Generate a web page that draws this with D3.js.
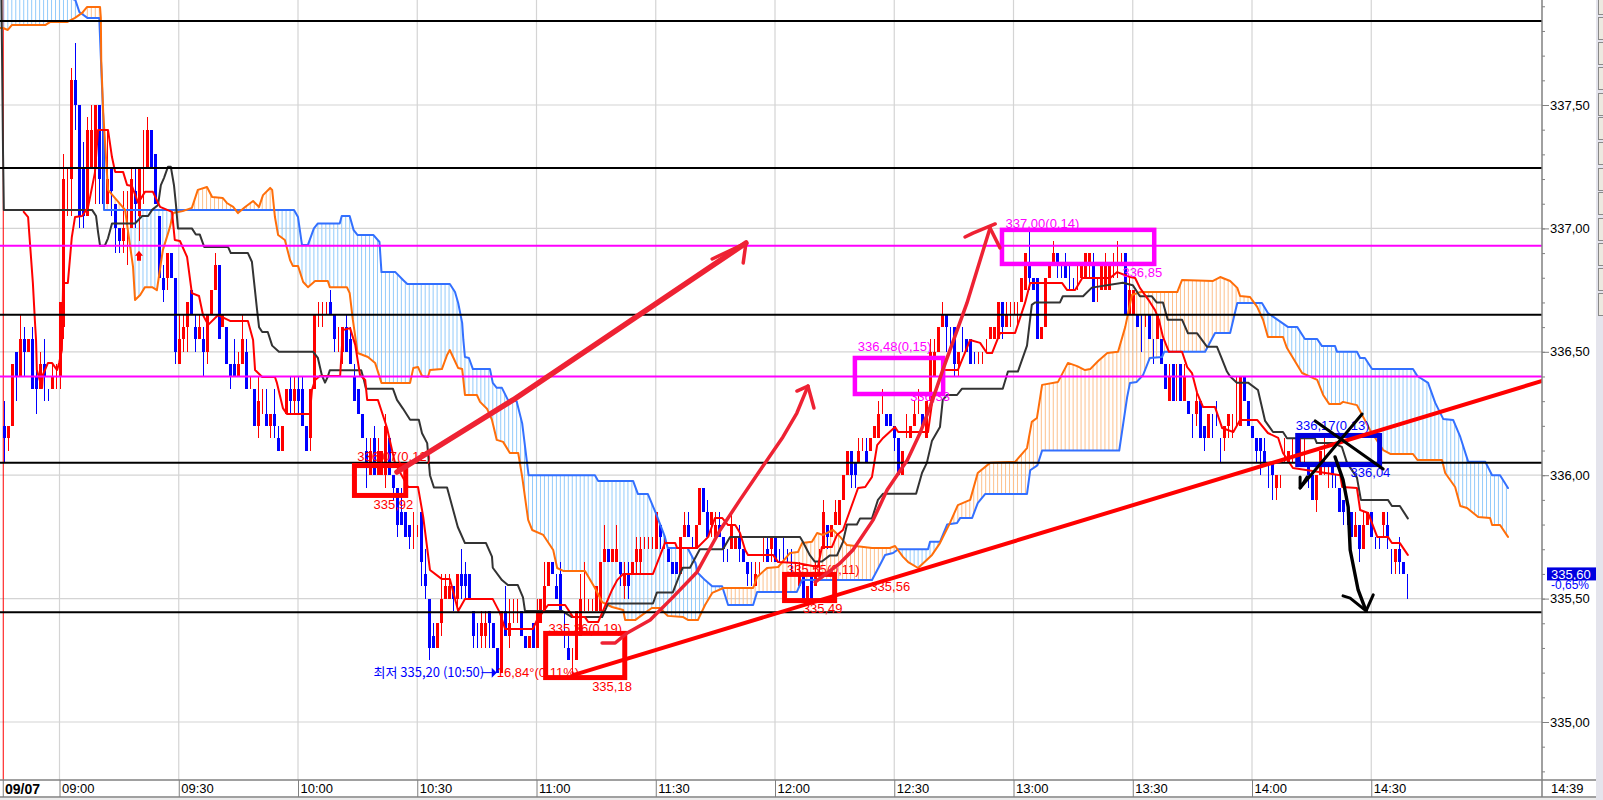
<!DOCTYPE html>
<html>
<head>
<meta charset="utf-8">
<script src="https://cdn.jsdelivr.net/npm/d3@7"></script>
<style>
  html, body { margin: 0; padding: 0; background: #fff; overflow: hidden; }
  svg { display: block; }
  text { font-family: "Liberation Sans Narrow", "Liberation Sans", sans-serif; font-size: 13px; }
</style>
</head>
<body>
<div id="chart"></div>
<script>
// Values. Minutes are counted from 09:00, bars are one minute apart.

const firstBar = -14
const candleSide =
  'BRRBRBRBBR' + 'BBRRRRRRBB' + 'BRRRBBRBBB' + 'RRRBRRRBBB' + 'BRBBRRRBBR' + 'BRRRBRBBBR' + 'RBRBRRBRBB' +
  'RRBRBBBRRR' + 'RRBBRRBBBB' + 'BBRBRRRBBB' + 'BBBRRBBBBR' + 'RRRBRBBBBB' + 'RRBBBRBRRR' + 'BBRBRRRRBB' +
  'BBBRRRRRRR' + 'RRBRRBRBRR' + 'RRRRRBRBBB' + 'RRBBRRBBRR' + 'BBBRRBBBBR' + 'RRBRBBBBBR' + 'RBRBRRRBRR' +
  'RRRBBRRBRR' + 'RRBBBBRRRR' + 'RBRRRRRBBB' + 'RBBBBRRRRR' + 'RBRRRRRRBB' + 'BRRRRBBBBB' + 'RRRRBRRRRR' +
  'RRBRRBBRBB' + 'RBBRBRBRBB' + 'RBBRBBBRRR' + 'RRBBBBBBBB' + 'RRRRRRRRBB' + 'RRRRBBBBBB' + 'RBRRBBBRBB' + 'RBBB'

const bodyTop = [
  336.2,336.2,336.45,336.5,336.55,336.55,336.55,336.55,336.4,336.45,
  336.45,336.35,336.4,336.4,336.7,337.2,337.05,337.6,337.6,337.5,
  337.25,337.4,337.4,337.5,337.5,337.4,337.2,337.25,337.1,337,
  337,337,337.2,337.15,337.25,337.3,337.4,337.4,337.3,337.05,
  336.8,336.9,336.9,336.8,336.55,336.6,336.7,336.75,336.6,336.6,
  336.55,336.65,336.75,336.85,336.85,336.65,336.6,336.45,336.45,336.45,
  336.55,336.5,336.4,336.35,336.3,336.3,336.25,336.25,336.25,336.15,
  336.2,336.35,336.35,336.35,336.35,336.35,336.2,336.35,336.65,336.65,
  336.65,336.7,336.7,336.65,336.55,336.6,336.6,336.55,336.4,336.35,
  336.25,336.1,336.1,336.15,336.1,336.1,336.2,336.15,336,335.95,
  335.85,335.85,335.8,335.8,335.8,335.85,335.6,335.5,335.35,335.4,
  335.5,335.55,335.55,335.55,335.6,335.6,335.6,335.6,335.45,335.35,
  335.4,335.4,335.45,335.4,335.3,335.45,335.45,335.4,335.45,335.45,
  335.45,335.35,335.35,335.4,335.45,335.5,335.55,335.65,335.65,335.55,
  335.6,335.35,335.3,335.25,335.45,335.5,335.5,335.5,335.5,335.55,
  335.65,335.7,335.7,335.7,335.7,335.65,335.6,335.6,335.65,335.7,
  335.7,335.7,335.7,335.7,335.85,335.8,335.7,335.7,335.65,335.65,
  335.75,335.8,335.8,335.75,335.8,335.95,335.95,335.85,335.85,335.8,
  335.8,335.75,335.7,335.8,335.75,335.75,335.7,335.65,335.6,335.6,
  335.6,335.7,335.7,335.75,335.75,335.7,335.7,335.7,335.65,335.6,
  335.6,335.6,335.55,335.6,335.6,335.65,335.85,335.8,335.8,335.85,
  335.9,336,336.1,336.1,336.05,336.1,336.1,336.1,336.15,336.2,
  336.25,336.3,336.25,336.25,336.2,336.15,336.1,336.2,336.2,336.25,
  336.3,336.25,336.3,336.5,336.5,336.6,336.65,336.65,336.6,336.6,
  336.5,336.55,336.55,336.55,336.5,336.5,336.5,336.55,336.6,336.6,
  336.7,336.7,336.65,336.7,336.7,336.7,336.8,336.9,336.85,336.8,
  336.8,336.6,336.8,336.85,336.9,336.9,336.85,336.85,336.8,336.8,
  336.8,336.85,336.9,336.9,336.85,336.75,336.85,336.85,336.85,336.85,
  336.85,336.9,336.9,336.75,336.75,336.65,336.6,336.6,336.65,336.55,
  336.65,336.55,336.45,336.4,336.45,336.45,336.45,336.4,336.3,336.25,
  336.3,336.3,336.2,336.25,336.2,336.25,336.1,336.2,336.25,336.2,
  336.25,336.4,336.4,336.3,336.2,336.15,336.15,336.1,336.05,336.05,
  336,336,336.1,336.1,336.05,336.1,336.1,336.1,336.05,336,
  336,336.1,336.05,336,336.05,336,335.95,335.9,335.85,335.85,
  335.8,335.8,335.8,335.85,335.85,335.75,335.75,335.85,335.8,335.7,
  335.7,335.7,335.65,335.6]

const bodyBottom = [
  336.15,336.15,336.2,336.4,336.4,336.5,336.5,336.35,336.35,336.35,
  336.4,336.35,336.35,336.4,336.4,336.6,337.05,337.2,337.5,337.05,
  337.05,337.05,337.25,337.25,337.2,337.1,337.1,337.15,337,336.95,
  336.95,337,337,337.1,337.05,337.3,337.25,337.25,337.1,336.8,
  336.75,336.8,336.8,336.5,336.45,336.55,336.6,336.65,336.55,336.55,
  336.5,336.5,336.65,336.75,336.55,336.6,336.45,336.4,336.4,336.4,
  336.45,336.35,336.4,336.2,336.2,336.3,336.2,336.2,336.2,336.1,
  336.1,336.25,336.3,336.3,336.3,336.2,336.1,336.15,336.35,336.65,
  336.65,336.7,336.65,336.55,336.55,336.5,336.5,336.45,336.3,336.25,
  336.15,336.05,336,336,336,336,336,336,335.95,335.8,
  335.8,335.75,335.75,335.8,335.8,335.65,335.55,335.3,335.3,335.3,
  335.4,335.5,335.5,335.5,335.5,335.55,335.55,335.5,335.35,335.35,
  335.35,335.35,335.4,335.3,335.2,335.2,335.35,335.35,335.45,335.45,
  335.35,335.3,335.3,335.3,335.3,335.4,335.45,335.55,335.6,335.5,
  335.45,335.35,335.25,335.25,335.25,335.35,335.5,335.5,335.5,335.45,
  335.45,335.65,335.65,335.65,335.65,335.6,335.55,335.55,335.6,335.65,
  335.65,335.7,335.7,335.7,335.7,335.75,335.7,335.65,335.6,335.6,
  335.6,335.75,335.75,335.75,335.7,335.8,335.85,335.75,335.8,335.75,
  335.75,335.7,335.7,335.7,335.7,335.7,335.65,335.6,335.6,335.55,
  335.6,335.7,335.65,335.7,335.65,335.7,335.7,335.7,335.65,335.6,
  335.55,335.5,335.5,335.5,335.55,335.65,335.7,335.75,335.75,335.8,
  335.8,335.9,336,336,336,336.05,336.1,336.05,336.1,336.15,
  336.15,336.3,336.2,336.2,336.15,336,336,336.2,336.15,336.2,
  336.3,336.2,336.15,336.3,336.4,336.5,336.6,336.6,336.6,336.45,
  336.45,336.55,336.5,336.45,336.5,336.5,336.5,336.55,336.55,336.55,
  336.55,336.6,336.6,336.7,336.7,336.7,336.7,336.75,336.8,336.75,
  336.55,336.55,336.6,336.8,336.85,336.85,336.85,336.8,336.8,336.8,
  336.8,336.8,336.8,336.85,336.7,336.75,336.75,336.75,336.75,336.85,
  336.85,336.9,336.65,336.65,336.65,336.6,336.6,336.6,336.55,336.55,
  336.55,336.45,336.35,336.3,336.3,336.45,336.3,336.3,336.25,336.25,
  336.25,336.15,336.15,336.15,336.2,336.25,336.1,336.15,336.2,336.2,
  336.25,336.2,336.3,336.2,336.15,336.1,336.1,336.05,336.05,336,
  335.95,336,336.1,336.05,336.05,336.1,336.1,336.1,336,335.9,
  335.9,336,336.05,336,336,336,335.85,335.85,335.85,335.75,
  335.75,335.7,335.7,335.8,335.75,335.75,335.75,335.8,335.75,335.7,
  335.65,335.65,335.6,335.6]

const wickHigh = [
  336.3,336.2,336.45,336.5,336.65,336.6,336.55,336.6,336.5,336.5,
  336.55,336.35,336.45,336.45,336.7,337.3,337.25,337.65,337.75,337.5,
  337.35,337.45,337.5,337.5,337.5,337.4,337.4,337.25,337.1,337,
  337.15,337.15,337.25,337.25,337.25,337.4,337.45,337.4,337.3,337.05,
  336.85,336.9,336.9,336.8,336.65,336.65,336.7,336.75,336.65,336.65,
  336.6,336.65,336.75,336.9,336.85,336.65,336.6,336.45,336.55,336.5,
  336.65,336.55,336.4,336.35,336.4,336.35,336.35,336.25,336.35,336.2,
  336.2,336.35,336.4,336.4,336.4,336.4,336.2,336.35,336.65,336.7,
  336.7,336.7,336.75,336.65,336.6,336.6,336.65,336.6,336.45,336.35,
  336.25,336.15,336.15,336.2,336.15,336.1,336.25,336.15,336,335.95,
  335.95,335.85,335.8,335.85,335.8,335.85,335.7,335.5,335.4,335.4,
  335.6,335.6,335.6,335.55,335.6,335.7,335.65,335.6,335.45,335.4,
  335.45,335.45,335.45,335.4,335.3,335.45,335.55,335.5,335.5,335.5,
  335.45,335.35,335.35,335.4,335.5,335.5,335.65,335.65,335.65,335.6,
  335.65,335.45,335.35,335.3,335.45,335.6,335.65,335.5,335.5,335.55,
  335.65,335.8,335.7,335.7,335.8,335.65,335.65,335.65,335.65,335.75,
  335.75,335.75,335.75,335.75,335.85,335.8,335.75,335.7,335.65,335.65,
  335.75,335.85,335.85,335.75,335.8,335.95,335.95,335.9,335.85,335.85,
  335.85,335.75,335.7,335.85,335.75,335.8,335.7,335.65,335.65,335.65,
  335.65,335.75,335.75,335.75,335.75,335.7,335.75,335.7,335.7,335.65,
  335.65,335.6,335.55,335.6,335.65,335.7,335.9,335.8,335.8,335.9,
  335.9,336,336.1,336.1,336.05,336.15,336.15,336.15,336.15,336.2,
  336.3,336.35,336.25,336.25,336.2,336.15,336.1,336.25,336.2,336.3,
  336.35,336.25,336.3,336.55,336.55,336.6,336.7,336.65,336.6,336.6,
  336.5,336.6,336.55,336.55,336.5,336.5,336.5,336.55,336.6,336.6,
  336.7,336.7,336.7,336.7,336.7,336.7,336.8,336.9,337,336.8,
  336.8,336.6,336.8,336.85,336.95,336.9,336.85,336.9,336.85,336.8,
  336.85,336.85,336.9,336.9,336.9,336.8,336.85,336.9,336.85,336.9,
  336.95,336.9,336.9,336.8,336.75,336.65,336.65,336.65,336.65,336.55,
  336.65,336.55,336.45,336.45,336.45,336.45,336.45,336.45,336.3,336.25,
  336.35,336.3,336.2,336.25,336.25,336.3,336.15,336.2,336.25,336.25,
  336.4,336.4,336.4,336.3,336.2,336.15,336.15,336.15,336.05,336.05,
  336,336,336.15,336.1,336.15,336.1,336.15,336.15,336.05,336,
  336,336.1,336.15,336.05,336.05,336,335.95,335.9,335.85,335.85,
  335.85,335.8,335.85,335.85,335.85,335.75,335.75,335.85,335.85,335.7,
  335.7,335.75,335.65,335.6]

const wickLow = [
  336.05,336.1,336.2,336.3,336.4,336.4,336.5,336.35,336.25,336.35,
  336.3,336.3,336.35,336.35,336.35,336.55,337.05,337.05,337.4,337,
  337,337.05,337.25,337.1,337.1,337.1,337.1,337.05,336.9,336.9,
  336.9,336.85,337,337,336.95,337.1,337.25,337.25,337.1,336.8,
  336.7,336.75,336.8,336.45,336.45,336.5,336.5,336.65,336.5,336.55,
  336.4,336.45,336.65,336.75,336.55,336.6,336.45,336.35,336.4,336.4,
  336.45,336.35,336.35,336.2,336.15,336.25,336.2,336.15,336.15,336.1,
  336.1,336.25,336.25,336.25,336.25,336.2,336.1,336.1,336.35,336.6,
  336.6,336.65,336.65,336.5,336.5,336.45,336.5,336.45,336.3,336.25,
  336.15,335.95,336,336,336,336,335.95,336,335.9,335.75,
  335.8,335.75,335.7,335.7,335.75,335.55,335.5,335.25,335.3,335.3,
  335.35,335.5,335.5,335.45,335.45,335.5,335.5,335.5,335.3,335.3,
  335.3,335.3,335.3,335.3,335.2,335.2,335.35,335.3,335.4,335.4,
  335.35,335.3,335.3,335.3,335.3,335.4,335.45,335.55,335.6,335.5,
  335.45,335.3,335.25,335.18,335.25,335.35,335.45,335.45,335.45,335.45,
  335.45,335.65,335.65,335.65,335.65,335.55,335.5,335.5,335.6,335.6,
  335.6,335.7,335.7,335.7,335.7,335.7,335.7,335.65,335.6,335.6,
  335.6,335.75,335.75,335.7,335.7,335.8,335.85,335.75,335.75,335.75,
  335.75,335.65,335.65,335.7,335.7,335.65,335.65,335.55,335.55,335.55,
  335.6,335.65,335.65,335.65,335.65,335.65,335.65,335.65,335.6,335.6,
  335.55,335.5,335.49,335.5,335.55,335.6,335.7,335.7,335.75,335.8,
  335.8,335.9,336,335.95,335.95,336.05,336.1,336.05,336.1,336.15,
  336.15,336.25,336.2,336.2,336.1,336,336,336.15,336.15,336.2,
  336.25,336.2,336.15,336.3,336.4,336.5,336.6,336.5,336.5,336.4,
  336.4,336.5,336.5,336.45,336.45,336.45,336.45,336.5,336.55,336.55,
  336.55,336.55,336.6,336.6,336.65,336.6,336.7,336.75,336.75,336.75,
  336.55,336.55,336.6,336.8,336.85,336.8,336.8,336.8,336.75,336.75,
  336.75,336.8,336.8,336.8,336.7,336.7,336.75,336.75,336.75,336.8,
  336.8,336.85,336.65,336.65,336.65,336.6,336.5,336.6,336.55,336.45,
  336.55,336.45,336.35,336.3,336.3,336.3,336.3,336.3,336.25,336.15,
  336.2,336.15,336.1,336.15,336.15,336.2,336.05,336.1,336.15,336.15,
  336.2,336.2,336.3,336.2,336.15,336.05,336,336.05,335.95,335.9,
  335.9,335.95,336.05,336.05,336.05,336.05,336.05,336.05,335.95,335.9,
  335.85,336,336,335.95,335.95,335.95,335.85,335.8,335.8,335.75,
  335.75,335.65,335.7,335.8,335.75,335.7,335.7,335.75,335.7,335.6,
  335.6,335.6,335.6,335.5]

const tenkanTime = [-9,-7.9,-7.7,-6.7,-6.2,-5.9,-5.7,-4.4,-4.2,-2.9,-1.9,-0.6,-0.1,0.6,0.9,2.1,3.1,3.9,5.7,7.2,8.9,9.7,12.2,13.2,14,16,17,18.2,19.8,21.5,23.5,25.3,28.3,29,30.3,32.1,33.3,35.1,36.1,37.4,39.9,42.9,47.4,48.7,49.2,51,54.2,54.7,56.2,57.2,63,63.5,64.3,65.5,70.6,71.3,73.1,74.4,75.6,76.9,77.4,80.1,82.4,84.4,87.7,90.2,91.5,93.2,96.2,98.2,100.3,102,109,110.8,112.1,119.1,120.1,122.9,127.2,129.2,132.2,133,135.5,139,140.3,141.8,149.3,152.3,154.9,155.4,160.4,163.2,164.9,166.7,168.2,170,171.2,172.5,173.2,179.5,180.8,185.5,190.8,191.8,194.3,195.6,197.1,200.9,202.7,204.4,205.7,207.2,210.2,211,218.5,219.5,222.2,226,229.1,231.6,233.3,234.6,236.6,240.4,242.9,244.2,252.2,253.5,255.5,257.3,264.3,266.1,269.3,270.6,271.8,274.3,275.6,276.6,277.6,279.1,282.4,283.7,284.9,286.2,287.7,290.7,292.5,295.3,297,301.3,304,306.6,307.8,310.3,322.2,322.7,326.4,327.2,329.2,331.5,334.2,335.2,337.2,339.2]
const tenkanPrice = [337.067,337.046,337,336.779,336.629,336.548,336.426,336.353,336.406,336.455,336.455,336.426,336.455,336.507,336.779,336.779,336.965,337.046,337.05,337.087,337.225,337.399,337.399,337.289,337.229,337.229,337.176,337.172,337.103,337.148,337.148,337.087,337.067,336.953,336.949,336.884,336.738,336.726,336.649,336.609,336.649,336.625,336.625,336.548,336.426,336.398,336.398,336.374,336.272,336.248,336.248,336.345,336.386,336.402,336.402,336.588,336.596,336.528,336.406,336.386,336.305,336.305,336.191,336.049,335.952,335.952,335.831,335.616,335.579,335.579,335.45,335.498,335.498,335.442,335.377,335.377,335.413,335.474,335.474,335.425,335.425,335.405,335.405,335.535,335.575,335.6,335.6,335.725,335.725,335.705,335.705,335.75,335.827,335.827,335.798,335.798,335.766,335.697,335.677,335.677,335.648,335.644,335.628,335.709,335.709,335.758,335.778,335.948,335.952,335.993,336.122,336.151,336.195,336.175,336.175,336.293,336.426,336.426,336.548,336.536,336.495,336.495,336.576,336.576,336.698,336.779,336.779,336.75,336.75,336.799,336.799,336.823,336.803,336.799,336.759,336.702,336.669,336.629,336.56,336.5,336.5,336.438,336.414,336.333,336.276,336.276,336.191,336.175,336.224,336.224,336.171,336.151,336.09,336.029,336,335.952,335.948,335.859,335.847,335.75,335.75,335.725,335.725,335.677]

const kijunTime = [-14.6,-14.2,-14,8.2,9.2,9.7,10.2,11.4,12.2,13.2,19,20.8,22.3,23.3,24.8,25.5,26.3,27.3,28,28.8,29.3,29.8,33.3,34.3,35.3,36.4,42.4,43.1,47.4,48.4,48.9,49.7,50.2,51,52.4,53.5,55.2,63.8,65,66,66.8,67.5,68,75.9,76.6,77.1,83.9,84.9,86.4,88.2,90.4,91.2,92.5,93.2,94.2,97.5,100.2,102,107.3,108.8,109,111.3,112.8,115.3,116.6,117.1,126.4,128.9,136.5,138,149.3,150.3,154.3,156.1,156.8,158.6,161.1,166.9,168.7,186.3,187,188.8,190,191.8,193.8,195.6,197.1,198.1,200.6,201.4,204.4,205.9,207.2,215.5,217,218.2,219.5,221.5,222.2,223.3,225.8,227,237.3,238.6,241.1,243.4,244.6,245.4,251.7,252.4,257.5,259.7,267.5,270,271.8,274.8,276,277.6,278.8,282.4,283.9,286.2,288.7,291.2,292.2,293.7,294.5,296.2,299,301.5,303.3,305.3,307.8,308.8,315.8,316.3,320.4,322.6,323.9,326.4,327.4,334.2,335.2,337.2,339.2]
const kijunPrice = [337.93,337.3,337.075,337.075,337.05,336.985,336.93,336.93,336.96,337.02,337.02,337.05,337.05,337.075,337.095,337.175,337.205,337.25,337.25,337.175,337.095,337,337,336.975,336.975,336.925,336.925,336.9,336.9,336.865,336.79,336.67,336.6,336.58,336.58,336.525,336.5,336.5,336.475,336.405,336.375,336.4,336.425,336.425,336.385,336.35,336.35,336.305,336.27,336.225,336.225,336.17,336.13,336,335.95,335.95,335.79,335.725,335.725,335.67,335.625,335.575,335.555,335.555,335.505,335.45,335.45,335.425,335.425,335.48,335.48,335.525,335.525,335.6,335.625,335.625,335.7,335.7,335.75,335.75,335.73,335.675,335.65,335.65,335.675,335.675,335.73,335.8,335.8,335.825,335.825,335.9,335.925,335.925,336.01,336.05,336.14,336.195,336.305,336.325,336.325,336.35,336.35,336.42,336.42,336.525,336.69,336.7,336.7,336.725,336.725,336.76,336.78,336.77,336.725,336.725,336.7,336.7,336.63,336.63,336.575,336.575,336.52,336.52,336.48,336.42,336.4,336.375,336.375,336.345,336.22,336.175,336.175,336.15,336.15,336.13,336.13,336.115,336.05,335.99,335.9,335.9,335.875,335.875,335.825]

const spanATime = [-15,-14.2,-13,-12,-3.6,-2.4,1.9,3.9,5.7,6.9,10.2,10.4,10.5,11,12.2,16.5,17.2,18.5,19,20.3,21.5,23.3,24.5,26,27.8,28.6,31,33.3,34.8,37.1,38.4,41.1,42.1,43.7,44.9,46.7,48.7,50.2,51.2,53,53.5,54.2,55,56.7,58,58.7,60,61.3,62.5,64.3,67.5,68,72.3,73,73.8,75,77.6,79.4,81,88.2,89,90.2,91.2,92.7,93.2,96.2,97.5,98.2,99,100.3,101.3,101.6,102,105,105.8,107.6,108.8,110,111.6,113.3,115.4,116.4,117.9,118.9,121.7,124.2,125.2,126.7,132.2,134.7,136.5,139,141.8,142.3,144.8,147.3,149,151,153,156.9,158.2,160.6,162.4,164.2,167,174.5,175.5,178,180.8,183.8,185.8,186.8,189.3,190.6,192.1,194.6,196.4,198.1,204.4,208.9,210.2,212.2,213.5,216,219.5,221.5,224,226,229.1,231,234.1,240.4,243.4,244.6,245.9,247.2,251.2,253.7,256,258,259.3,261.3,263.6,266.3,268.1,269.8,271.8,281.2,282.4,290.2,292,294.5,296.3,297,299.5,301.3,302.8,304,307.8,308.8,312.6,316.4,317.9,319.4,322.2,322.9,326.4,329.7,333,334.8,340.5,341.6,347.8,348.6,351.1,352.4,354.1,356.9,359.9,360.4,362.4,364.4]
const spanAPrice = [337.812,337.812,337.804,337.824,337.824,337.836,337.836,337.853,337.873,337.897,337.897,337.853,337.682,337.468,337.156,337.075,336.993,336.844,336.71,336.73,336.762,336.762,336.75,336.912,337.006,337.062,337.07,337.083,337.156,337.168,337.127,337.123,337.103,337.087,337.062,337.087,337.111,337.087,337.135,337.164,337.156,337.046,336.973,336.953,336.872,336.848,336.848,336.783,336.762,336.787,336.787,336.762,336.762,336.738,336.629,336.495,336.479,336.455,336.374,336.374,336.434,336.438,336.402,336.398,336.426,336.43,336.487,336.507,336.479,336.434,336.43,336.386,336.325,336.325,336.297,336.268,336.224,336.143,336.135,336.09,336.09,335.993,335.819,335.778,335.758,335.697,335.624,335.612,335.612,335.543,335.486,335.466,335.454,335.413,335.413,335.442,335.462,335.462,335.43,335.425,335.413,335.413,335.474,335.523,335.543,335.543,335.588,335.624,335.628,335.685,335.689,335.725,335.73,335.766,335.758,335.778,335.75,335.717,335.705,335.705,335.713,335.669,335.648,335.624,335.677,335.725,335.806,335.879,335.9,336.009,336.05,336.054,336.11,336.216,336.232,336.366,336.378,336.455,336.442,336.426,336.43,336.463,336.495,336.5,336.6,336.73,336.742,336.742,336.791,336.787,336.803,336.787,336.759,336.726,336.722,336.682,336.629,336.56,336.56,336.515,336.414,336.386,336.325,336.289,336.289,336.297,336.284,336.183,336.102,336.086,336.086,336.062,336.062,336.009,335.952,335.875,335.867,335.831,335.827,335.798,335.798,335.75]

const spanBTime = [-15,4,5,7,10,10.5,11,11.2,59,60,61,62.5,64,65,70.5,71,73,74,75,79,80.5,81,84.5,86.5,87.5,98.2,99.5,100.3,101.3,101.6,102,103,104,108.3,109,110,111.3,112.8,115,116.4,118,134.7,135.5,144.3,145.5,148,150,152.3,153,158,160,160.6,162.4,164.2,166.7,168.2,174.5,175.5,185.5,186.8,204.4,206,207.7,209.7,211,218.5,219,221.5,223.3,225.8,226.6,229.6,231,232.9,243.4,244.2,246,247.2,266.6,268.6,269.3,271,272.6,274.3,277.4,277.9,288.2,290.7,294.5,296.3,302.5,304,309.1,311.4,313.3,316.4,317.6,320.9,321.4,326.4,327.2,328.4,330.2,340.5,341.6,344.3,346.1,348.1,350.6,352.4,354.4,358.7,360.4,362.4,364.4]
const spanBPrice = [338.05,337.925,337.877,337.853,337.853,337.654,337.451,337.075,337.075,337.046,336.933,336.933,337,337.02,337.02,337.05,337.05,336.993,336.973,336.973,336.945,336.823,336.823,336.79,336.775,336.775,336.742,336.698,336.617,336.548,336.479,336.475,336.43,336.43,336.374,336.354,336.354,336.305,336.3,336.21,336,336,335.977,335.977,335.924,335.924,335.847,335.75,335.705,335.705,335.644,335.604,335.575,335.55,335.55,335.474,335.474,335.527,335.527,335.575,335.575,335.624,335.677,335.685,335.7,335.7,335.73,335.73,335.8,335.806,335.827,335.827,335.887,335.924,335.924,336.02,336.04,336.1,336.1,336.317,336.374,336.378,336.406,336.475,336.479,336.5,336.5,336.576,336.576,336.698,336.698,336.657,336.6,336.6,336.552,336.552,336.523,336.523,336.5,336.5,336.475,336.475,336.43,336.43,336.402,336.374,336.293,336.228,336.224,336.155,336.054,336.054,336,336,335.948]

const blackLevels = [337.84, 337.245, 336.65, 336.05, 335.445]
const magentaLevels = [336.93, 336.40]

const priceTicks = [335, 335.5, 336, 336.5, 337, 337.5]
const priceMinorTicks = [334.8,334.9,335,335.1,335.2,335.3,335.4,335.5,335.6,335.7,335.8,335.9,336,336.1,336.2,336.3,336.4,336.5,336.6,336.7,336.8,336.9,337,337.1,337.2,337.3,337.4,337.5,337.6,337.7,337.8,337.9]
const timeTicks = [0,30,60,90,120,150,180,210,240,270,300,330]
const timeLabels = ['09:00','09:30','10:00','10:30','11:00','11:30','12:00','12:30','13:00','13:30','14:00','14:30']

const lastPrice = 335.60
const dayBreak = -14.15

// hand drawn annotations
const redBoxes = [[74.2,336.039,87.1,335.918],[122.3,335.359,142.2,335.18],[182.4,335.598,195,335.492]]
const magentaBoxes = [[200.1,336.475,222.3,336.329],[237.1,336.994,275.4,336.856]]
const blueBoxes = [[311.5,336.161,332.1,336.043]]

const trendLine = [[129.2,335.19],[373,336.382]]
const strokeOne = [[84.9,336.013],[114.1,336.305],[172.7,336.941]]
const strokeOneHead = [[164.2,336.876],[172.7,336.941],[172,336.86]]
const strokeTwo = [[136.5,335.32],[139.8,335.32],[142.8,335.361],[148.6,335.413],[154.4,335.507],[160.4,335.608],[166.2,335.778],[171.2,335.9],[176.3,336.021],[182,336.155],[185.5,336.252],[188.3,336.361]]
const strokeTwoHead = [[185.5,336.341],[188.3,336.361],[189.8,336.272]]
const strokeThree = [[190.1,335.567],[196.4,335.644],[199.6,335.697],[204.7,335.819],[208.2,335.94],[213.3,336.062],[216.5,336.171],[219,336.276],[222.2,336.426],[228.3,336.698],[234.1,337.002]]
const strokeThreeHead = [[227.8,336.965],[229.8,336.981],[235.4,337.018]]
const strokeThreeTail = [[234.1,337.002],[236.6,336.921]]
const crossA = [[315.9,336.22],[333,336.025]]
const crossB = [[327.7,336.248],[312.1,335.948]]
const crossBHead = [[312.1,335.993],[312.1,335.948],[313.9,335.993]]
const blackCurve = [[320.9,336.074],[322.9,335.981],[324.2,335.871],[324.7,335.697],[326.7,335.535],[328.7,335.45]]
const blackHead = [[322.9,335.511],[324.7,335.502],[328.7,335.45],[330.5,335.515]]

const labelText = ['336,07(0,12)','335,92','335,36(0,19)','335,18','최저 335,20 (10:50)','16,84°(0,11%)','335,55(0,11)','335,56','335,49','336,48(0,15)','336,33','337,00(0,14)','336,85','336,17(0,13)','336,04']
const labelTime = [74.9,79,123,134,79,110,183,204,187,200.8,214,238,267.4,311,324.8]
const labelPrice = [336.074,335.88,335.38,335.145,335.2,335.2,335.62,335.55,335.46,336.52,336.32,337.02,336.82,336.2,336.01]
const labelColor = ['#ff0000','#ff0000','#ff0000','#ff0000','#0000ff','#ff0000','#ff0000','#ff0000','#ff0000','#ff00ff','#ff00ff','#ff00ff','#ff00ff','#0000ff','#0000ff']

const bars = d3.range(candleSide.length).map(i => ({
    t: firstBar + i,
    side: candleSide[i],
    top: bodyTop[i],
    bottom: bodyBottom[i],
    high: wickHigh[i],
    low: wickLow[i]
}))

const W = 1603, H = 800
const plotRight = 1542, plotBottom = 780, stripBottom = 797

const x = d3.scaleLinear().domain([0, 330]).range([59.5, 59.5 + 330 * 3.975])
const y = d3.scaleLinear().domain([335, 337.5]).range([722, 105])

const svg = d3.select('#chart').append('svg').attr('width', W).attr('height', H)

svg.append('defs').append('clipPath').attr('id', 'plot')
    .append('rect').attr('width', plotRight).attr('height', plotBottom)

svg.append('rect').attr('width', W).attr('height', H).attr('fill', '#fff')

let plot = svg.append('g').attr('clip-path', 'url(#plot)')

// grid
plot.selectAll('.vgrid').data(timeTicks).join('line')
    .attr('x1', d => x(d)).attr('x2', d => x(d)).attr('y1', 0).attr('y2', plotBottom)
    .attr('stroke', '#d4d4d4').attr('stroke-width', 1.2)

plot.selectAll('.hgrid').data(priceTicks).join('line')
    .attr('x1', 0).attr('x2', plotRight).attr('y1', d => y(d)).attr('y2', d => y(d))
    .attr('stroke', '#d4d4d4').attr('stroke-width', 1.2)

plot.append('line')
    .attr('x1', x(dayBreak)).attr('x2', x(dayBreak)).attr('y1', 0).attr('y2', plotBottom)
    .attr('stroke', '#f00').attr('stroke-width', 1)

// cloud hatching, one stroke per bar
const spanA = d3.scaleLinear().domain(spanATime).range(spanAPrice)
const spanB = d3.scaleLinear().domain(spanBTime).range(spanBPrice)

plot.selectAll('.hatch').data(d3.range(-15, 365)).join('line')
    .attr('x1', d => x(d)).attr('x2', d => x(d))
    .attr('y1', d => y(spanA(d))).attr('y2', d => y(spanB(d)))
    .attr('stroke', d => spanA(d) > spanB(d) ? '#fdc08c' : '#93cbfb')
    .attr('stroke-width', 1)

// candles
plot.selectAll('.wick').data(bars).join('line')
    .attr('x1', d => Math.round(x(d.t)) + 0.5).attr('x2', d => Math.round(x(d.t)) + 0.5)
    .attr('y1', d => y(d.high)).attr('y2', d => y(d.low))
    .attr('stroke', d => d.side == 'R' ? '#ff0000' : '#0000ff')
    .attr('stroke-width', 1)
    .attr('shape-rendering', 'crispEdges')

plot.selectAll('.body').data(bars.filter(d => d.top > d.bottom)).join('rect')
    .attr('x', d => Math.round(x(d.t)) - 1)
    .attr('width', 3)
    .attr('y', d => y(d.top))
    .attr('height', d => y(d.bottom) - y(d.top))
    .attr('fill', d => d.side == 'R' ? '#ff0000' : '#0000ff')
    .attr('shape-rendering', 'crispEdges')

// ichimoku lines
const line = d3.line().x(d => x(d[0])).y(d => y(d[1]))

function drawLine(parent, pts, color, w) {
    return parent.append('path')
        .attr('d', line(pts))
        .attr('fill', 'none')
        .attr('stroke', color)
        .attr('stroke-width', w)
        .attr('stroke-linejoin', 'round')
        .attr('stroke-linecap', 'round')
}

drawLine(plot, d3.zip(spanBTime, spanBPrice), '#3370ff', 2)
drawLine(plot, d3.zip(spanATime, spanAPrice), '#ff6e0a', 2)
drawLine(plot, d3.zip(kijunTime, kijunPrice), '#333333', 2)
drawLine(plot, d3.zip(tenkanTime, tenkanPrice), '#ff0000', 2)

// small signal arrow
plot.append('path')
    .attr('d', 'M0,-6 L4,-1 L2,-1 L2,4 L-2,4 L-2,-1 L-4,-1 Z')
    .attr('transform', `translate(${x(20)},${y(336.885)})`)
    .attr('fill', '#f00')

// price levels
plot.selectAll('.blevel').data(blackLevels).join('line')
    .attr('x1', 0).attr('x2', plotRight).attr('y1', d => y(d)).attr('y2', d => y(d))
    .attr('stroke', '#000').attr('stroke-width', 2)

plot.selectAll('.mlevel').data(magentaLevels).join('line')
    .attr('x1', 0).attr('x2', plotRight).attr('y1', d => y(d)).attr('y2', d => y(d))
    .attr('stroke', '#ff00ff').attr('stroke-width', 2)

// labels sit below the hand drawings
plot.selectAll('.note').data(labelText).join('text')
    .attr('x', (d, i) => x(labelTime[i]))
    .attr('y', (d, i) => y(labelPrice[i]))
    .attr('dy', '0.35em')
    .attr('fill', (d, i) => labelColor[i])
    .style('font-family', (d, i) => i == 4 ? '"Liberation Sans Narrow", "Noto Sans CJK KR", sans-serif' : null)
    .text(d => d)

// blue pointer to the day low
drawLine(plot, [[106.3,335.2],[109,335.2]], '#0000ff', 1)
plot.append('path')
    .attr('d', 'M-5,-5 L0,0 L-5,5 Z')
    .attr('transform', `translate(${x(110)},${y(335.2)})`)
    .attr('fill', '#0000ff')

// hand drawn boxes
function drawBoxes(data, color, w) {
    plot.selectAll(null).data(data).join('rect')
        .attr('x', d => x(d[0])).attr('y', d => y(d[1]))
        .attr('width', d => x(d[2]) - x(d[0])).attr('height', d => y(d[3]) - y(d[1]))
        .attr('fill', 'none').attr('stroke', color).attr('stroke-width', w)
}

drawBoxes(redBoxes, '#ff0000', 5)
drawBoxes(magentaBoxes, '#ff00ff', 4.5)
drawBoxes(blueBoxes, '#0000e0', 5)

drawLine(plot, trendLine, '#ff0000', 4)
const pen = '#ee2233'
drawLine(plot, strokeOne, pen, 5.5)
drawLine(plot, strokeOneHead, pen, 3.5)
drawLine(plot, strokeTwo, pen, 3.5)
drawLine(plot, strokeTwoHead, pen, 3.5)
drawLine(plot, strokeThree, pen, 3.5)
drawLine(plot, strokeThreeHead, pen, 3.5)
drawLine(plot, strokeThreeTail, pen, 3.5)

drawLine(plot, crossA, '#000', 3)
drawLine(plot, crossB, '#000', 3)
drawLine(plot, crossBHead, '#000', 3)
drawLine(plot, blackCurve, '#000', 3.4)
drawLine(plot, blackHead, '#000', 3)

// right axis
const minorAxis = d3.axisRight(y).tickValues(priceMinorTicks).tickSize(3).tickFormat('')
const majorAxis = d3.axisRight(y).tickValues(priceTicks).tickSize(7).tickPadding(1)
    .tickFormat(d => d3.format('.2f')(d).replace('.', ','))

let axisG = svg.append('g').attr('transform', `translate(${plotRight},0)`)
axisG.append('g').call(minorAxis).call(g => g.select('.domain').remove())
axisG.append('g').call(majorAxis).call(g => g.select('.domain').remove())
axisG.selectAll('line').attr('stroke', '#808080').attr('stroke-width', 1)
axisG.selectAll('text').attr('fill', '#000').style('font-size', '13px')
    .style('font-family', '"Liberation Sans Narrow", sans-serif')

svg.append('line')
    .attr('x1', plotRight).attr('x2', plotRight).attr('y1', 0).attr('y2', stripBottom)
    .attr('stroke', '#808080').attr('stroke-width', 1.5)

// last price flag
svg.append('rect').attr('x', 1547).attr('y', y(lastPrice) - 6.5).attr('width', 49).attr('height', 13).attr('fill', '#0000e0')
svg.append('text').attr('x', 1551).attr('y', y(lastPrice)).attr('dy', '0.36em').attr('fill', '#fff')
    .text(d3.format('.2f')(lastPrice).replace('.', ','))
svg.append('text').attr('x', 1551).attr('y', y(lastPrice) + 11).attr('dy', '0.36em').attr('fill', '#0000ff')
    .style('font-size', '12px').text('-0,65%')

// bottom time strip
const timeAxis = d3.axisBottom(x).tickValues(timeTicks).tickSize(17).tickFormat((d, i) => timeLabels[i])
let timeG = svg.append('g').attr('transform', `translate(0,${plotBottom})`).call(timeAxis)
timeG.select('.domain').remove()
timeG.selectAll('line').attr('stroke', '#808080').attr('stroke-width', 1)
timeG.selectAll('text')
    .attr('y', 8.5).attr('dy', '0.36em').attr('dx', 2).attr('text-anchor', 'start')
    .attr('fill', '#000')
    .style('font-size', '13px').style('font-family', '"Liberation Sans Narrow", sans-serif')

svg.selectAll('.stripline').data([plotBottom, stripBottom]).join('line')
    .attr('x1', 0).attr('x2', 1596).attr('y1', d => d).attr('y2', d => d)
    .attr('stroke', '#808080').attr('stroke-width', 1.5)

svg.append('line').attr('x1', x(dayBreak)).attr('x2', x(dayBreak)).attr('y1', plotBottom).attr('y2', stripBottom)
    .attr('stroke', '#808080')

svg.append('text').attr('x', 5).attr('y', plotBottom + 8.5).attr('dy', '0.36em')
    .attr('fill', '#000').style('font-family', '"Liberation Sans", sans-serif')
    .style('font-weight', 'bold').style('font-size', '14px').text('09/07')

svg.append('text').attr('x', 1551).attr('y', plotBottom + 8.5).attr('dy', '0.36em')
    .attr('fill', '#000').text('14:39')

// window chrome on the right and below
svg.append('rect').attr('x', 1596).attr('y', 0).attr('width', 7).attr('height', H).attr('fill', '#e4e4ec')
svg.append('rect').attr('x', 0).attr('y', stripBottom + 1).attr('width', 1596).attr('height', 2).attr('fill', '#ececec')

const toolButtonTops = [-8,17,42,67,93,117,142,168,192,218,243,268,293]
svg.selectAll('.tool').data(toolButtonTops).join('rect')
    .attr('x', 1598.5).attr('y', d => d + 0.5).attr('width', 8).attr('height', 22)
    .attr('fill', '#ece9e0').attr('stroke', '#8a8a8a')
</script>
</body>
</html>
